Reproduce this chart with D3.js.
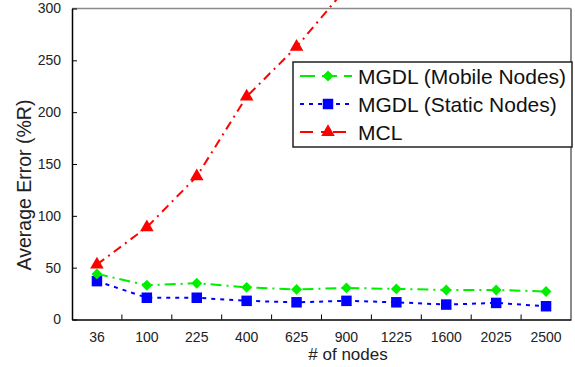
<!DOCTYPE html>
<html>
<head>
<meta charset="utf-8">
<script src="https://cdn.jsdelivr.net/npm/d3@7"></script>
<style>
  body { margin: 0; background: #fff; }
  svg { display: block; font-family: "Liberation Sans", Arial, sans-serif; }
</style>
</head>
<body>
<div id="chart"></div>
<script>
// Chart data
const nodes = ['36', '100', '225', '400', '625', '900', '1225', '1600', '2025', '2500'];
const mobile = [44, 33, 35, 31, 29, 30.5, 29.5, 28.5, 28.5, 27];
const stat = [37, 21, 21, 18, 16.6, 18, 16.6, 14.4, 16, 12.8];
const mcl = [53, 89, 138, 215, 263, 320];
const yTicks = [0, 50, 100, 150, 200, 250, 300];

const width = 575, height = 367;
const plotLeft = 72, plotRight = 571, plotTop = 8.5, plotBottom = 319.5;

const svg = d3.select('#chart').append('svg')
  .attr('width', width)
  .attr('height', height);

const x = d3.scaleBand().domain(nodes).range([plotLeft, plotRight]);
const y = d3.scaleLinear().domain([0, 300]).range([plotBottom, plotTop]);
const cx = (d, i) => x(nodes[i]) + x.bandwidth() / 2;

// Frame: grey top and right borders
svg.append('line').attr('x1', plotLeft).attr('x2', plotRight).attr('y1', plotTop).attr('y2', plotTop)
  .attr('stroke', '#8a8a8a').attr('stroke-width', 1.5);
svg.append('line').attr('x1', plotRight).attr('x2', plotRight).attr('y1', plotTop).attr('y2', plotBottom)
  .attr('stroke', '#8a8a8a').attr('stroke-width', 2);

// Y axis
const yAxis = svg.append('g')
  .attr('transform', 'translate(' + plotLeft + ',0)')
  .call(d3.axisLeft(y).tickValues(yTicks).tickSizeInner(-5).tickSizeOuter(0).tickPadding(11));
yAxis.select('.domain').attr('stroke', '#000').attr('stroke-width', 1.5);
yAxis.selectAll('.tick line').attr('stroke', '#000');
yAxis.selectAll('.tick text').attr('font-size', 14).attr('fill', '#222')
  .attr('font-family', '"Liberation Sans", Arial, sans-serif');

// X axis (labels at band centres, ticks at boundaries)
const xAxis = svg.append('g')
  .attr('transform', 'translate(0,' + plotBottom + ')')
  .call(d3.axisBottom(x).tickSize(0).tickPadding(13));
xAxis.select('.domain').attr('stroke', '#000').attr('stroke-width', 1.5);
xAxis.selectAll('.tick text').attr('font-size', 14).attr('fill', '#222')
  .attr('font-family', '"Liberation Sans", Arial, sans-serif');
svg.append('g').selectAll('line')
  .data(nodes.slice(1))
  .join('line')
  .attr('x1', d => x(d)).attr('x2', d => x(d))
  .attr('y1', plotBottom).attr('y2', plotBottom - 5)
  .attr('stroke', '#000');

// Axis titles
svg.append('text')
  .attr('transform', 'translate(31,185) rotate(-90)')
  .attr('text-anchor', 'middle')
  .attr('font-size', 19.5)
  .attr('fill', '#222')
  .text('Average Error (%R)');
svg.append('text')
  .attr('x', 348).attr('y', 360)
  .attr('text-anchor', 'middle')
  .attr('font-size', 17)
  .attr('fill', '#222')
  .text('# of nodes');

const series = [
  { name: 'MGDL (Mobile Nodes)', values: mobile, color: '#00ee00', dash: '11,5,2,5', shape: d3.symbolDiamond2, size: 75 },
  { name: 'MGDL (Static Nodes)', values: stat, color: '#0000ff', dash: '4,5', shape: d3.symbolSquare, size: 110 },
  { name: 'MCL', values: mcl, color: '#ff0000', dash: '9,5,2,5', shape: d3.symbolTriangle, size: 80 }
];

const line = d3.line().x(cx).y(d => y(d));

series.forEach(s => {
  svg.append('path')
    .datum(s.values)
    .attr('d', line)
    .attr('fill', 'none')
    .attr('stroke', s.color)
    .attr('stroke-width', 2)
    .attr('stroke-dasharray', s.dash);
});
series.slice().reverse().forEach(s => {
  svg.append('g').selectAll('path')
    .data(s.values)
    .join('path')
    .attr('transform', (d, i) => 'translate(' + cx(d, i) + ',' + y(d) + ')')
    .attr('d', d3.symbol().type(s.shape).size(s.size))
    .attr('fill', s.color);
});

// Legend
const legend = svg.append('g');
legend.append('rect')
  .attr('x', 293).attr('y', 62).attr('width', 279).attr('height', 85)
  .attr('fill', '#fff').attr('stroke', '#222').attr('stroke-width', 1.5);
series.forEach((s, i) => {
  const ly = 76 + i * 28;
  legend.append('line')
    .attr('x1', 300).attr('x2', 352).attr('y1', ly).attr('y2', ly)
    .attr('stroke', s.color).attr('stroke-width', 2)
    .attr('stroke-dasharray', i === 1 ? '4,5' : (i === 0 ? '15,7' : '13,8,4,8'));
  legend.append('path')
    .attr('transform', 'translate(328,' + ly + ')')
    .attr('d', d3.symbol().type(s.shape).size(s.size))
    .attr('fill', s.color);
  legend.append('text')
    .attr('x', 358).attr('y', ly + 7.5)
    .attr('font-size', 21)
    .attr('fill', '#111')
    .text(s.name);
});
</script>
</body>
</html>
